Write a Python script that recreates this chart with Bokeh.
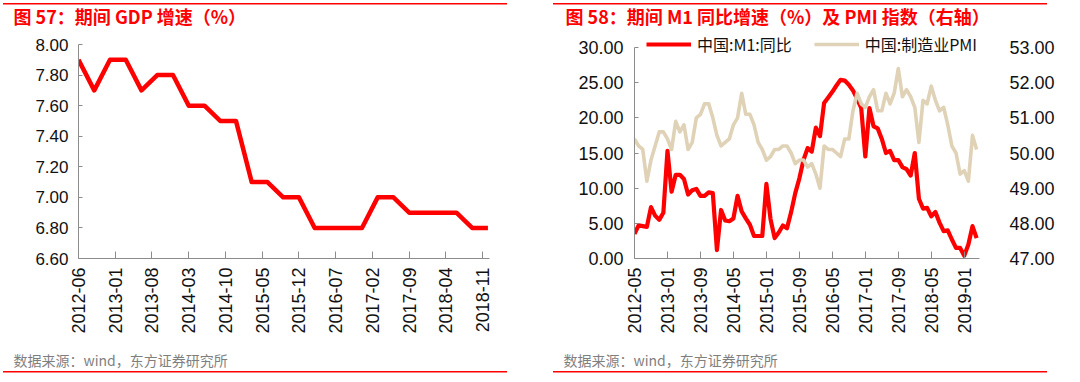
import math
from bokeh.plotting import figure
from bokeh.models import (Range1d, LinearAxis, FixedTicker, PrintfTickFormatter,
                          Title, Legend, LegendItem)
from bokeh.layouts import row
from bokeh.embed import file_html
from bokeh.resources import INLINE

# ---------------- data: left chart (quarterly GDP growth, %) ----------------
gdp_dates = ["2012-06", "2012-09", "2012-12", "2013-03", "2013-06", "2013-09", "2013-12",
             "2014-03", "2014-06", "2014-09", "2014-12", "2015-03", "2015-06", "2015-09",
             "2015-12", "2016-03", "2016-06", "2016-09", "2016-12", "2017-03", "2017-06",
             "2017-09", "2017-12", "2018-03", "2018-06", "2018-09", "2018-12"]
gdp_values = [7.9, 7.7, 7.9, 7.9, 7.7, 7.8, 7.8, 7.6, 7.6, 7.5, 7.5, 7.1, 7.1, 7.0,
              7.0, 6.8, 6.8, 6.8, 6.8, 7.0, 7.0, 6.9, 6.9, 6.9, 6.9, 6.8, 6.8]
gdp_tick_labels = ["2012-06", "2013-01", "2013-08", "2014-03", "2014-10", "2015-05",
                   "2015-12", "2016-07", "2017-02", "2017-09", "2018-04", "2018-11"]
gdp_y_ticks = [6.6, 6.8, 7.0, 7.2, 7.4, 7.6, 7.8, 8.0]

# ---------------- data: right chart (monthly M1 YoY % and PMI) ----------------
m1_start, m1_end = "2012-05", "2019-04"
m1_values = [3.5, 4.7, 4.6, 4.5, 7.3, 6.1, 5.5, 6.5,
             15.3, 9.5, 11.9, 11.9, 11.3, 9.1, 9.7, 9.9, 8.9, 8.9, 9.4, 9.3,
             1.2, 6.9, 5.4, 5.3, 5.7, 8.9, 6.7, 5.7, 4.8, 3.2, 3.2, 3.2,
             10.6, 5.6, 2.9, 3.7, 4.7, 4.3, 6.6, 9.3, 11.4, 14.0, 15.7, 15.2,
             18.6, 17.4, 22.1, 22.9, 23.7, 24.6, 25.4, 25.3, 24.7, 23.9, 22.7, 21.4,
             14.5, 21.4, 18.8, 18.5, 17.0, 15.0, 15.3, 14.0, 14.0, 13.0, 12.7, 11.8,
             15.0, 8.5, 7.1, 7.2, 6.0, 6.6, 5.1, 3.9, 4.0, 2.7, 1.5, 1.5,
             0.4, 2.0, 4.6, 2.9]
pmi_values = [50.4, 50.2, 50.1, 49.2, 49.8, 50.2, 50.6, 50.6,
              50.4, 50.1, 50.9, 50.6, 50.8, 50.1, 50.3, 51.0, 51.1, 51.4, 51.4, 51.0,
              50.5, 50.2, 50.3, 50.4, 50.8, 51.0, 51.7, 51.1, 51.1, 50.8, 50.3, 50.1,
              49.8, 49.9, 50.1, 50.1, 50.2, 50.2, 50.0, 49.7, 49.8, 49.8, 49.6, 49.7,
              49.4, 49.0, 50.2, 50.1, 50.1, 50.0, 49.9, 50.4, 50.4, 51.2, 51.7, 51.4,
              51.3, 51.6, 51.8, 51.2, 51.2, 51.7, 51.4, 51.7, 52.4, 51.6, 51.8, 51.6,
              51.3, 50.3, 51.5, 51.4, 51.9, 51.5, 51.2, 51.3, 50.8, 50.2, 50.0, 49.4,
              49.5, 49.2, 50.5, 50.1]
m1_tick_labels = ["2012-05", "2013-01", "2013-09", "2014-05", "2015-01", "2015-09",
                  "2016-05", "2017-01", "2017-09", "2018-05", "2019-01"]
m1_y_ticks = [0, 5, 10, 15, 20, 25, 30]
pmi_y_ticks = [47, 48, 49, 50, 51, 52, 53]

title_left = "图 57：期间 GDP 增速（%）"
title_right = "图 58：期间 M1 同比增速（%）及 PMI 指数（右轴）"
source_text = "数据来源：wind，东方证券研究所"
legend_m1 = "中国:M1:同比"
legend_pmi = "中国:制造业PMI"

RED = "#FF0000"
BEIGE = "#DFD2B6"
AXIS = "#8C8C8C"
LATIN = "Liberation Sans"
CJK = "Noto Sans CJK SC"
FIG_W, FIG_H = 540, 382
FRAME_TOP, FRAME_BOTTOM = 31, 258   # both frames share top/bottom (row aligns frames)


def month_index(s, base):
    y, m = map(int, s.split("-"))
    by, bm = map(int, base.split("-"))
    return (y - by) * 12 + (m - bm)


def month_list(start, end):
    out = []
    y, m = map(int, start.split("-"))
    while True:
        s = "%04d-%02d" % (y, m)
        out.append(s)
        if s == end:
            break
        m += 1
        if m > 12:
            m, y = 1, y + 1
    return out


m1_dates = month_list(m1_start, m1_end)


def rules_css(left, width):
    # thin red rules above the title and below the source line (CSS background of the figure)
    g = "linear-gradient(%s,%s)" % (RED, RED)
    return {
        "background-color": "white",
        "background-image": "%s, %s" % (g, g),
        "background-size": "%dpx 1.5px, %dpx 1.5px" % (width, width),
        "background-position": "%dpx 3px, %dpx 371px" % (left, left),
        "background-repeat": "no-repeat",
    }


def style_common(p):
    p.xgrid.visible = False
    p.ygrid.visible = False
    p.outline_line_color = None
    p.background_fill_color = None
    p.border_fill_color = None


def add_titles(p, frame_left, title, title_x, src_x):
    p.add_layout(Title(text=title, align="left", vertical_align="top", offset=title_x - frame_left,
                       standoff=1, text_font=CJK, text_font_style="bold",
                       text_font_size="18px", text_color=RED), "above")
    p.add_layout(Title(text=source_text, align="left", vertical_align="bottom",
                       offset=src_x - frame_left, standoff=22, text_font=CJK,
                       text_font_style="normal", text_font_size="14px",
                       text_color="#7F7F7F"), "below")


def style_axes(xaxis, yaxis, ysize):
    xaxis.major_label_orientation = math.pi / 2
    xaxis.major_tick_in = 7
    xaxis.major_tick_out = 0
    xaxis.major_label_standoff = 9
    xaxis.major_label_text_font_size = "18px"
    yaxis.formatter = PrintfTickFormatter(format="%.2f")
    yaxis.major_tick_in = 4
    yaxis.major_tick_out = 0
    yaxis.major_label_text_font_size = ysize
    for ax in (xaxis, yaxis):
        ax.axis_line_color = AXIS
        ax.major_tick_line_color = AXIS
        ax.minor_tick_line_color = None
        ax.major_label_text_font = LATIN
        ax.major_label_text_color = "#111111"


# ---------------- left chart ----------------
L_FRAME_LEFT, L_TOP_VAL = 78, 44          # 8.00 sits at page y 44
gx = [month_index(d, gdp_dates[0]) for d in gdp_dates]
px_gdp = (FRAME_BOTTOM - L_TOP_VAL) / (gdp_y_ticks[-1] - gdp_y_ticks[0])
p1 = figure(frame_width=411, frame_height=FRAME_BOTTOM - FRAME_TOP,
            min_border_left=L_FRAME_LEFT, min_border_right=FIG_W - L_FRAME_LEFT - 411,
            min_border_top=FRAME_TOP, min_border_bottom=FIG_H - FRAME_BOTTOM,
            x_range=Range1d(0, gx[-1] + 0.3),
            y_range=Range1d(gdp_y_ticks[0], gdp_y_ticks[-1] + (L_TOP_VAL - FRAME_TOP) / px_gdp),
            output_backend="svg", toolbar_location=None)
style_common(p1)
p1.styles = rules_css(3, 504)
p1.line(gx, gdp_values, line_color=RED, line_width=4.5, line_join="round")
p1.xaxis.ticker = FixedTicker(ticks=[month_index(t, gdp_dates[0]) for t in gdp_tick_labels])
p1.xaxis.major_label_overrides = {month_index(t, gdp_dates[0]): t for t in gdp_tick_labels}
p1.yaxis.ticker = FixedTicker(ticks=gdp_y_ticks)
p1.yaxis.bounds = (gdp_y_ticks[0], gdp_y_ticks[-1])
style_axes(p1.xaxis[0], p1.yaxis[0], "17px")
p1.yaxis.major_label_standoff = 10
add_titles(p1, L_FRAME_LEFT, title_left, 13, 13)

# ---------------- right chart ----------------
R_FRAME_LEFT, R_TOP_VAL = 94, 47          # 30.00 / 53.00 sit at page y 47
px_m1 = (FRAME_BOTTOM - R_TOP_VAL) / (m1_y_ticks[-1] - m1_y_ticks[0])
px_pmi = (FRAME_BOTTOM - R_TOP_VAL) / (pmi_y_ticks[-1] - pmi_y_ticks[0])
extra = R_TOP_VAL - FRAME_TOP
mx = [month_index(d, m1_dates[0]) for d in m1_dates]
p2 = figure(frame_width=345, frame_height=FRAME_BOTTOM - FRAME_TOP,
            min_border_left=R_FRAME_LEFT, min_border_right=FIG_W - R_FRAME_LEFT - 345,
            min_border_top=FRAME_TOP, min_border_bottom=FIG_H - FRAME_BOTTOM,
            x_range=Range1d(0, mx[-1] + 0.7),
            y_range=Range1d(m1_y_ticks[0], m1_y_ticks[-1] + extra / px_m1),
            output_backend="svg", toolbar_location=None)
style_common(p2)
p2.styles = rules_css(13, 494)
p2.extra_y_ranges = {"pmi": Range1d(pmi_y_ticks[0], pmi_y_ticks[-1] + extra / px_pmi)}
r_m1 = p2.line(mx, m1_values, line_color=RED, line_width=4.2, line_join="round")
r_pmi = p2.line(mx, pmi_values, line_color=BEIGE, line_width=3.6, line_join="round",
                y_range_name="pmi")
p2.xaxis.ticker = FixedTicker(ticks=[month_index(t, m1_dates[0]) for t in m1_tick_labels])
p2.xaxis.major_label_overrides = {month_index(t, m1_dates[0]): t for t in m1_tick_labels}
p2.yaxis.ticker = FixedTicker(ticks=m1_y_ticks)
p2.yaxis.bounds = (m1_y_ticks[0], m1_y_ticks[-1])
style_axes(p2.xaxis[0], p2.yaxis[0], "18px")
p2.yaxis.major_label_standoff = 11

right_axis = LinearAxis(y_range_name="pmi", ticker=FixedTicker(ticks=pmi_y_ticks),
                        formatter=PrintfTickFormatter(format="%.2f"),
                        bounds=(pmi_y_ticks[0], pmi_y_ticks[-1]))
right_axis.axis_line_color = None
right_axis.major_tick_line_color = None
right_axis.minor_tick_line_color = None
right_axis.major_tick_in = 0
right_axis.major_tick_out = 0
right_axis.major_label_standoff = 30
right_axis.major_label_text_font = LATIN
right_axis.major_label_text_font_size = "18px"
right_axis.major_label_text_color = "#111111"
p2.add_layout(right_axis, "right")

# legend centred at page y 44
LEG_H = 24
legend = Legend(items=[LegendItem(label=legend_m1, renderers=[r_m1]),
                       LegendItem(label=legend_pmi, renderers=[r_pmi])],
                orientation="horizontal", location=(12, (FRAME_BOTTOM - 44) - LEG_H // 2),
                glyph_width=45, glyph_height=LEG_H, label_height=LEG_H, padding=0, margin=0,
                spacing=22, label_standoff=6, background_fill_alpha=0, border_line_alpha=0,
                label_text_font=CJK, label_text_font_size="16px", label_text_color="#111111")
p2.add_layout(legend)
add_titles(p2, R_FRAME_LEFT, title_right, 25, 23)

layout = row(p1, p2)
open("out.html", "w").write(file_html(layout, INLINE))
